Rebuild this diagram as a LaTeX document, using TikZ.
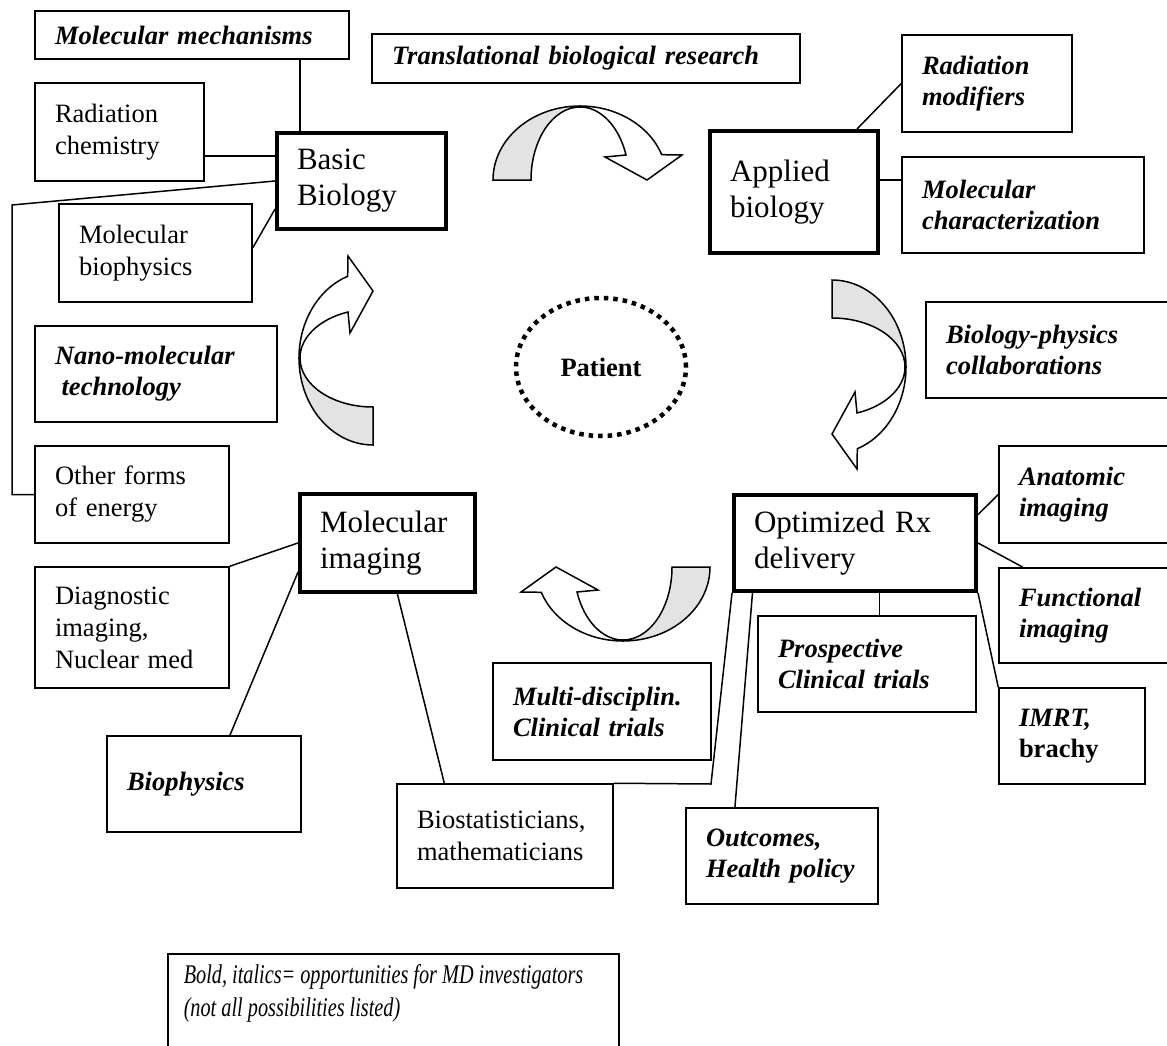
\documentclass[tikz,border=0pt]{standalone}
\usepackage{fontspec}
\setmainfont{Liberation Serif}
\newfontfamily\legendfont[FakeStretch=0.75]{Liberation Serif}
\usetikzlibrary{shapes.geometric}
\hyphenpenalty=10000
\exhyphenpenalty=10000

\begin{document}
\begin{tikzpicture}[x=1pt, y=-1pt,
    box/.style 2 args={draw, rectangle, line width=1.5pt, align=left,
        inner xsep=20pt, inner ysep=0pt, text width=#1pt, minimum height=#2pt,
        font=\fontsize{26.5}{32}\selectfont},
    mainbox/.style 2 args={box={#1}{#2}, line width=4pt, font=\fontsize{31}{36}\selectfont},
    opp/.style={font=\fontsize{26.5}{31}\selectfont\bfseries\itshape},
    link/.style={line width=1.5pt},
    curl/.pic={
        \filldraw[fill=gray!22, line width=1.5pt]
            (-87,0) arc[start angle=180, end angle=270, x radius=87, y radius=74]
            -- (0,-73) arc[start angle=270, end angle=180, x radius=49, y radius=73] -- cycle;
        \draw[line width=1.5pt]
            (0,-74) arc[start angle=270, end angle=340, x radius=87, y radius=74]
            -- (102,-25) -- (67,0) -- (25,-23) -- (46,-25)
            arc[start angle=340, end angle=270, x radius=49, y radius=73] -- cycle;
    }]
    \useasboundingbox (0,0) rectangle (1167,1046);

    % the four stages
    \node[mainbox={129}{96}] (basic) at (361.5,181) {Basic\\Biology};
    \node[mainbox={128}{122}] (applied) at (794,192) {Applied\\biology};
    \node[mainbox={202}{96}] (optim) at (855,543) {Optimized Rx\\delivery};
    \node[mainbox={135}{98}] (molimg) at (387.5,543) {Molecular\\imaging};

    \node[ellipse, draw, line width=4.5pt, dash pattern=on 4.5pt off 5pt,
        minimum width=170pt, minimum height=138pt, inner sep=0pt,
        font=\fontsize{26.5}{32}\selectfont\bfseries] (patient) at (601,367) {Patient};

    % cycle arrows
    \pic at (580,180) {curl};
    \pic[rotate=-90] at (832,367) {curl};
    \pic[rotate=180] at (623,567) {curl};
    \pic[rotate=90] at (373,358) {curl};

    % side boxes
    \node[box={274}{48}, opp] (mech) at (192,35) {Molecular mechanisms};
    \node[box={129}{98}] (radchem) at (119.5,132) {Radiation\\chemistry};
    \node[box={153}{98}] (molbio) at (155.5,253) {Molecular\\biophysics};
    \node[box={388}{49}, opp] (transl) at (586,58.5) {Translational biological research};
    \node[box={130}{97}, opp] (radmod) at (987,83.5) {Radiation\\modifiers};
    \node[box={202}{96}, opp] (molchar) at (1023,205) {Molecular\\characterization};
    \node[box={224}{96}, opp] (collab) at (1058,350) {Biology-physics\\collaborations};
    \node[box={202}{96}, opp] (nano) at (156,374) {Nano-molecular\\\hspace*{0.25em}technology};
    \node[box={154}{97}] (other) at (132,494.5) {Other forms\\of energy};
    \node[box={154}{121}] (diag) at (132,627.5) {Diagnostic\\imaging,\\Nuclear med};
    \node[box={154}{96}, opp] (biophys) at (204,784) {Biophysics};
    \node[box={176}{104}] (biostat) at (505,836) {Biostatisticians,\\mathematicians};
    \node[box={178}{97}, opp] (multi) at (602,711.5) {Multi-disciplin.\\Clinical trials};
    \node[box={152}{96}, opp] (outcomes) at (782,856) {Outcomes,\\Health policy};
    \node[box={151}{97}, opp] (anat) at (1094.5,494.5) {Anatomic\\imaging};
    \node[box={151}{95}, opp] (func) at (1094.5,615.5) {Functional\\imaging};
    \node[box={178}{96}, opp] (prosp) at (867,664) {Prospective\\Clinical trials};
    \node[box={106}{96}, opp] (imrt) at (1072,736) {IMRT,\\\upshape brachy};

    \node[draw, line width=1.5pt, anchor=north west, inner xsep=16pt, inner ysep=11pt,
        font=\legendfont\fontsize{27}{33}\selectfont\itshape] (legend) at (167,953)
        {\parbox[t][112pt][t]{419pt}{Bold, italics= opportunities for MD investigators\\(not all possibilities listed)}};

    % connectors
    \coordinate (bend) at (12,205);
    \coordinate (corner) at (711,784);
    \draw[link] (basic.141) -- (basic.141 |- mech.south);
    \draw[link] (basic.164) -- (basic.164 -| radchem.east);
    \draw[link] (basic.west) -- (bend) |- (other.west);
    \draw[link] (molbio.3) -- (basic.198);
    \draw[link] (applied.45) -- (radmod.west);
    \draw[link] (applied.8) -- (applied.8 -| molchar.west);
    \draw[link] (optim.13) -- (anat.west);
    \draw[link] (optim.east) -- (func.146);
    \draw[link] (optim.south east) -- (imrt.north west);
    \draw[link] (optim.296) -- (optim.296 |- prosp.north);
    \draw[link] (optim.206) -- (outcomes.134);
    \draw[link] (optim.south west) -- (corner) -- (biostat.north east);
    \draw[link] (molimg.281) -- (biostat.139);
    \draw[link] (molimg.west) -- (diag.north east);
    \draw[link] (molimg.198) -- (biophys.62);
\end{tikzpicture}
\end{document}
